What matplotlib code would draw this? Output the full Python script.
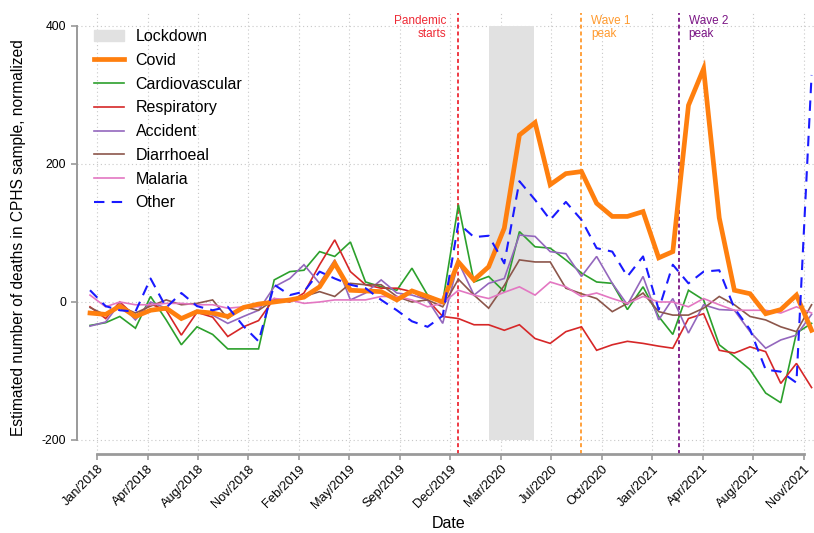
import matplotlib
matplotlib.use('Agg')
import matplotlib.pyplot as plt
import matplotlib.patches as mpatches
import matplotlib.dates as mdates
import pandas as pd
import numpy as np

plt.rcParams['font.family'] = ['Liberation Sans', 'DejaVu Sans']

# ---------------- data ----------------
months = pd.date_range('2018-01-01', periods=48, freq='MS')

covid = [-16, -18, -6, -21, -12, -9, -24, -14, -16, -21, -8, -3, 0, 3, 7, 22, 56, 17, 16, 15, 3, 16, 8, 0,
         58, 32, 51, 107, 242, 260, 170, 186, 189, 143, 124, 124, 131, 64, 73, 285, 338, 122, 17, 12, -17, -11, 10, -41]
cardiovascular = [-34, -30, -21, -38, 8, -26, -62, -36, -47, -68, -68, -68, 32, 44, 46, 73, 66, 87, 29, 22, 17, 49, 10, 0,
                  141, 29, 37, 15, 102, 80, 78, 61, 42, 29, 27, -11, 22, -21, -47, 17, 3, -62, -79, -98, -132, -146, -45, -31]
respiratory = [-7, -24, 0, -21, -3, -12, -48, -15, -22, -50, -36, -27, 5, 0, 13, 54, 90, 44, 25, 20, 20, 15, 3, -21,
               -24, -33, -33, -41, -33, -53, -60, -43, -36, -70, -62, -57, -60, -64, -67, -24, -17, -70, -74, -65, -72, -118, -89, -124]
accident = [-35, -29, -2, -26, 0, -9, -24, -12, -19, -31, -21, -12, 22, 34, 54, 27, 61, 3, 13, 32, 13, 10, 3, -31,
            58, 10, 27, 34, 97, 95, 73, 70, 37, 66, 27, -4, 37, -26, 5, -45, -4, -11, -12, -43, -67, -55, -48, -18]
diarrhoeal = [-8, -19, -6, -16, -6, 3, -4, -2, 3, -24, -7, -12, 3, 3, 8, 15, 8, 27, 25, 25, 8, 0, 3, -7,
              33, 10, -9, 24, 61, 58, 58, 20, 12, 5, -14, -2, 13, -14, -19, -19, -9, 8, -4, -21, -26, -36, -43, -4]
malaria = [10, -7, 0, -4, -4, -2, -2, -4, -4, -9, -7, -7, 5, 3, -2, 0, 3, 3, 3, 8, 8, 3, -7, -2,
           17, 10, 5, 14, 22, 10, 29, 22, 8, 13, 5, -2, 8, 0, 0, -7, 5, -4, -12, -12, -12, -16, -7, -16]
other = [17, -6, -12, -14, 34, -8, 13, -6, -12, -7, -35, -57, 25, 10, 15, 44, 34, 25, 20, 3, -12, -28, -36, -20,
         114, 94, 96, 56, 175, 148, 119, 145, 119, 78, 73, 37, 66, -11, 54, 27, 44, 46, -9, -40, -98, -101, -117, 329]

tick_dates = pd.date_range('2018-01-15', periods=15, freq='100D')
tick_labels = ['Jan/2018', 'Apr/2018', 'Aug/2018', 'Nov/2018', 'Feb/2019', 'May/2019', 'Sep/2019',
               'Dec/2019', 'Mar/2020', 'Jul/2020', 'Oct/2020', 'Jan/2021', 'Apr/2021', 'Aug/2021', 'Nov/2021']
y_ticks = [-200, 0, 200, 400]

lockdown_start = pd.Timestamp('2020-03-01')
lockdown_end = pd.Timestamp('2020-05-30')
event_dates = [pd.Timestamp('2020-01-01'), pd.Timestamp('2020-09-01'), pd.Timestamp('2021-03-13')]
event_labels = ['Pandemic\nstarts', 'Wave 1\npeak', 'Wave 2\npeak']
event_colors = ['#ee2a35', '#ff9a2e', '#7b1585']

series = [
    ('Covid', covid, '#ff7f0e', 3.4, '-'),
    ('Cardiovascular', cardiovascular, '#2ca02c', 1.2, '-'),
    ('Respiratory', respiratory, '#d62728', 1.2, '-'),
    ('Accident', accident, '#9467bd', 1.2, '-'),
    ('Diarrhoeal', diarrhoeal, '#8c564b', 1.2, '-'),
    ('Malaria', malaria, '#e377c2', 1.2, '-'),
    ('Other', other, '#1a1aff', 1.5, (0, (5, 3.5))),
]

# ---------------- figure ----------------
W, H = 814, 533
fig = plt.figure(figsize=(W / 100, H / 100), dpi=100)
ax_l, ax_r, ax_t, ax_b = 77, 814, 13, 454
ax = fig.add_axes([ax_l / W, (H - ax_b) / H, (ax_r - ax_l) / W, (ax_b - ax_t) / H])

x0 = pd.Timestamp('2018-01-01')
ax.set_xlim(x0 - pd.Timedelta(days=25.8), x0 + pd.Timedelta(days=1434.8))
ax.set_ylim(-220.3, 418.8)

# grid
grid_kw = dict(color='#c8c8c8', lw=0.8, ls=(0, (1, 2.5)), zorder=0)
for yv in y_ticks:
    ax.axhline(yv, **grid_kw)
for td in tick_dates:
    ax.axvline(td, **grid_kw)

# lockdown box
ax.fill_betweenx([y_ticks[0], y_ticks[-1]], lockdown_start, lockdown_end,
                 color='#e1e1e1', lw=0, zorder=1)

# event lines & labels
for d, lab, c in zip(event_dates, event_labels, event_colors):
    ax.axvline(d, color=c, lw=1.3, ls=(0, (2.2, 1.6)), zorder=2)
for i, (d, lab, c) in enumerate(zip(event_dates, event_labels, event_colors)):
    if i == 0:
        ax.annotate(lab, xy=(d, 1), xycoords=('data', 'axes fraction'), xytext=(-8.5, -1.5),
                    textcoords='offset points', ha='right', va='top', color=c,
                    fontsize=8.5, linespacing=1.1)
    else:
        ax.annotate(lab, xy=(d, 1), xycoords=('data', 'axes fraction'), xytext=(7, -1.5),
                    textcoords='offset points', ha='left', va='top', color=c,
                    fontsize=8.5, linespacing=1.1)

# series
handles = [mpatches.Patch(color='#e1e1e1', label='Lockdown')]
order_z = {'Covid': 4, 'Other': 5}
for name, vals, col, lw, ls in series:
    ln, = ax.plot(months, vals, color=col, lw=lw, ls=ls, label=name,
                  zorder=order_z.get(name, 3), solid_joinstyle='miter')
    handles.append(ln)

leg = ax.legend(handles=handles, loc='upper left',
                bbox_to_anchor=((94 - ax_l) / (ax_r - ax_l), (ax_b - 29) / (ax_b - ax_t)),
                frameon=False, fontsize=11.5, handlelength=1.85, handleheight=0.7,
                handletextpad=0.75, labelspacing=0.55, borderpad=0, borderaxespad=0)

# axes styling
for s in ['top', 'right']:
    ax.spines[s].set_visible(False)
ax.spines['left'].set_bounds(y_ticks[0], y_ticks[-1])
ax.spines['left'].set_color('#9a9a9a')
ax.spines['left'].set_linewidth(1.4)
ax.spines['bottom'].set_bounds(mdates.date2num(tick_dates[0]), mdates.date2num(tick_dates[-1]))
ax.spines['bottom'].set_color('#9a9a9a')
ax.spines['bottom'].set_linewidth(2.0)

ax.set_yticks(y_ticks)
ax.set_yticklabels([str(v) for v in y_ticks])
ax.set_xticks(tick_dates)
ax.set_xticklabels(tick_labels, rotation=45, ha='right', rotation_mode='anchor')
ax.tick_params(axis='y', length=4.5, width=1.2, color='#9a9a9a', labelsize=8.7, pad=3.5)
ax.tick_params(axis='x', length=4.5, width=1.2, color='#9a9a9a', labelsize=9.2, pad=2)

ax.set_ylabel('Estimated number of deaths in CPHS sample, normalized', fontsize=11.2)
ax.yaxis.set_label_coords((26 - ax_l) / (ax_r - ax_l), 0.49)
ax.set_xlabel('Date', fontsize=11.5)
ax.xaxis.set_label_coords((449 - ax_l) / (ax_r - ax_l), (ax_b - 516) / (ax_b - ax_t))

fig.savefig('out.png', dpi=100)
